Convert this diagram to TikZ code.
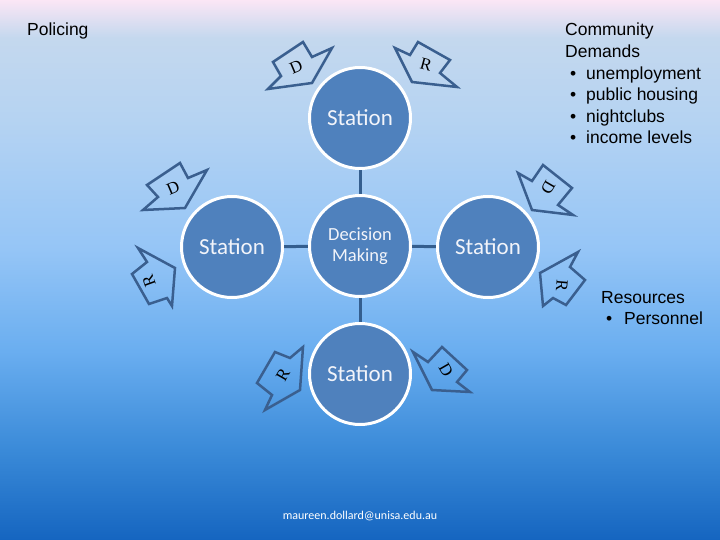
\documentclass[tikz,border=0pt]{standalone}
\usepackage{fontspec}
\setmainfont{Liberation Sans}
\newfontfamily\calib{Carlito}
\newfontfamily\lettfont{Liberation Serif}
\definecolor{bgA}{HTML}{1565C0}
\definecolor{bgB}{HTML}{3A8AD8}
\definecolor{bgC}{HTML}{6AAEF0}
\definecolor{bgD}{HTML}{95C5F6}
\definecolor{bgE}{HTML}{B5D3F2}
\definecolor{bgF}{HTML}{C4D8EE}
\definecolor{bgG}{HTML}{FBE6F5}
\definecolor{circfill}{HTML}{4F81BD}
\definecolor{linkcol}{HTML}{345E8E}
\definecolor{arrcol}{HTML}{3A5F8F}
\definecolor{stxt}{HTML}{F2F4FA}
\pgfdeclareverticalshading{bgshade}{100bp}{color(0bp)=(bgA); color(25bp)=(bgA); color(33.3bp)=(bgB); color(42.5bp)=(bgC); color(51.9bp)=(bgD); color(63.9bp)=(bgE); color(71.5bp)=(bgF); color(75bp)=(bgG); color(100bp)=(bgG)}
\pgfdeclarelayer{bglayer}
\pgfdeclarelayer{linklayer}
\pgfsetlayers{bglayer,linklayer,main}
\tikzset{
  station/.style={circle, fill=circfill, draw=white, line width=3pt, minimum size=101pt, inner sep=0pt, text=stxt, font=\calib\fontsize{23}{25}\selectfont},
  link/.style={draw=linkcol, line width=3pt},
  blockarr/.style={draw=arrcol, line width=2.5pt, line join=miter},
  letter/.style={font=\lettfont\fontsize{17}{17}\selectfont, text=black, inner sep=0pt},
  plain/.style={font=\fontsize{17.5}{21.6}\selectfont, text=black, inner sep=0pt}
}
\begin{document}
\begin{tikzpicture}[x=1pt,y=-1pt]
\useasboundingbox (0,0) rectangle (720,540);
\begin{pgfonlayer}{bglayer}
\shade[shading=bgshade] (0,0) rectangle (720,540);
\end{pgfonlayer}

% circles
\node[station, align=center, font=\calib\fontsize{18.5}{21}\selectfont] (ctr) at (360,246) {Decision\\Making};
\node[station] (top) at (360,118) {Station};
\node[station] (lft) at (232,247) {Station};
\node[station] (rgt) at (488,247) {Station};
\node[station] (bot) at (360,374) {Station};

% links behind circles
\begin{pgfonlayer}{linklayer}
\path[link] (ctr) -- (top);
\path[link] (ctr) -- (lft);
\path[link] (ctr) -- (rgt);
\path[link] (ctr) -- (bot);
\end{pgfonlayer}

% block arrows
\draw[blockarr] (273,62)--(303,42)--(312,57)--(332,48)--(312,83)--(268,89)--(281,76)--cycle;
\draw[blockarr] (395,48)--(410,55)--(418,42)--(450,60)--(440,73)--(457,87)--(412,82)--cycle;
\draw[blockarr] (147,185)--(180,163)--(188,178)--(207,170)--(185,208)--(143,210)--(158,197)--cycle;
\draw[blockarr] (138,248)--(147,262)--(132,274)--(149,304)--(167,298)--(172,306)--(175,268)--cycle;
\draw[blockarr] (518,173)--(532,181)--(543,165)--(572,188)--(558,205)--(573,215)--(532,210)--cycle;
\draw[blockarr] (578,252)--(570,267)--(585,280)--(566,305)--(553,298)--(543,306)--(540,273)--cycle;
\draw[blockarr] (303,347)--(300,390)--(265,410)--(272,395)--(257,383)--(275,352)--(290,358)--cycle;
\draw[blockarr] (413,352)--(428,362)--(442,347)--(467,370)--(457,382)--(470,392)--(432,390)--cycle;

% letters
\node[letter, rotate=23] (l1) at (296,67) {D};
\node[letter, rotate=-15] (l2) at (426,65) {R};
\node[letter, rotate=23] (l3) at (173,188) {D};
\node[letter, rotate=110] (l4) at (149,281) {R};
\node[letter, rotate=-120] (l5) at (548,188) {D};
\node[letter, rotate=-95] (l6) at (562,286) {R};
\node[letter, rotate=60] (l7) at (283,375) {R};
\node[letter, rotate=-60] (l8) at (446,370) {D};

% texts
\node[plain, anchor=base west] (pol) at (27,36) {Policing};
\node[plain, anchor=north west, align=left] (dem) at (565,23) {Community\\Demands\\\makebox[21pt][l]{\ •}unemployment\\\makebox[21pt][l]{\ •}public housing\\\makebox[21pt][l]{\ •}nightclubs\\\makebox[21pt][l]{\ •}income levels};
\node[plain, anchor=north west, align=left] (res) at (601,291) {Resources\\\makebox[23pt][l]{\ •}Personnel};
\node[font=\calib\fontsize{12}{12}\selectfont, text=white, inner sep=0pt] (mail) at (360,516) {maureen.dollard@unisa.edu.au};
\end{tikzpicture}
\end{document}
